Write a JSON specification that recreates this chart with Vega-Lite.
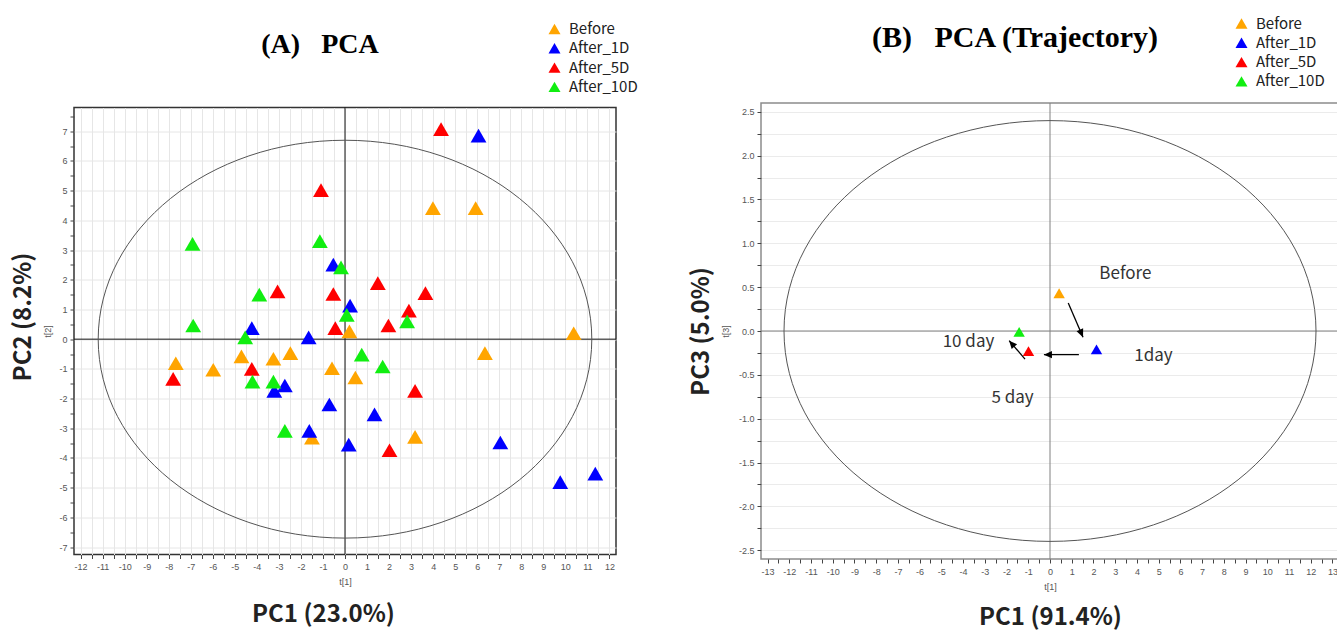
{
  "$schema": "https://vega.github.io/schema/vega-lite/v6.json",
  "background": "white",
  "padding": {"left": 10, "top": 15, "right": 0, "bottom": 0},
  "bounds": "flush",
  "center": true,
  "spacing": 145,
  "datasets": {
    "pca": [
      {"pc1": -7.68, "pc2": -0.81, "group": "Before"},
      {"pc1": -5.98, "pc2": -1.03, "group": "Before"},
      {"pc1": -4.7, "pc2": -0.58, "group": "Before"},
      {"pc1": -3.25, "pc2": -0.66, "group": "Before"},
      {"pc1": -2.48, "pc2": -0.47, "group": "Before"},
      {"pc1": -0.59, "pc2": -0.98, "group": "Before"},
      {"pc1": 0.47, "pc2": -1.29, "group": "Before"},
      {"pc1": -1.5, "pc2": -3.32, "group": "Before"},
      {"pc1": 0.2, "pc2": 0.26, "group": "Before"},
      {"pc1": 3.99, "pc2": 4.41, "group": "Before"},
      {"pc1": 5.93, "pc2": 4.41, "group": "Before"},
      {"pc1": 10.38, "pc2": 0.2, "group": "Before"},
      {"pc1": 6.35, "pc2": -0.47, "group": "Before"},
      {"pc1": 3.18, "pc2": -3.29, "group": "Before"},
      {"pc1": 6.06, "pc2": 6.85, "group": "After_1D"},
      {"pc1": -0.53, "pc2": 2.51, "group": "After_1D"},
      {"pc1": 0.23, "pc2": 1.13, "group": "After_1D"},
      {"pc1": -4.23, "pc2": 0.37, "group": "After_1D"},
      {"pc1": -1.65, "pc2": 0.06, "group": "After_1D"},
      {"pc1": -3.21, "pc2": -1.74, "group": "After_1D"},
      {"pc1": -2.73, "pc2": -1.56, "group": "After_1D"},
      {"pc1": -0.71, "pc2": -2.2, "group": "After_1D"},
      {"pc1": -1.62, "pc2": -3.09, "group": "After_1D"},
      {"pc1": 0.17, "pc2": -3.55, "group": "After_1D"},
      {"pc1": 1.34, "pc2": -2.53, "group": "After_1D"},
      {"pc1": 7.05, "pc2": -3.48, "group": "After_1D"},
      {"pc1": 9.77, "pc2": -4.81, "group": "After_1D"},
      {"pc1": 11.36, "pc2": -4.53, "group": "After_1D"},
      {"pc1": 4.36, "pc2": 7.07, "group": "After_5D"},
      {"pc1": -1.09, "pc2": 5.02, "group": "After_5D"},
      {"pc1": -3.06, "pc2": 1.61, "group": "After_5D"},
      {"pc1": -0.53, "pc2": 1.52, "group": "After_5D"},
      {"pc1": -0.44, "pc2": 0.37, "group": "After_5D"},
      {"pc1": -7.8, "pc2": -1.34, "group": "After_5D"},
      {"pc1": -4.23, "pc2": -1.0, "group": "After_5D"},
      {"pc1": 1.49, "pc2": 1.89, "group": "After_5D"},
      {"pc1": 3.65, "pc2": 1.55, "group": "After_5D"},
      {"pc1": 2.9, "pc2": 0.96, "group": "After_5D"},
      {"pc1": 1.97, "pc2": 0.46, "group": "After_5D"},
      {"pc1": 3.18, "pc2": -1.74, "group": "After_5D"},
      {"pc1": 2.02, "pc2": -3.74, "group": "After_5D"},
      {"pc1": -6.92, "pc2": 3.21, "group": "After_10D"},
      {"pc1": -6.89, "pc2": 0.46, "group": "After_10D"},
      {"pc1": -1.14, "pc2": 3.3, "group": "After_10D"},
      {"pc1": -0.18, "pc2": 2.42, "group": "After_10D"},
      {"pc1": -3.89, "pc2": 1.5, "group": "After_10D"},
      {"pc1": 0.08, "pc2": 0.82, "group": "After_10D"},
      {"pc1": -4.53, "pc2": 0.06, "group": "After_10D"},
      {"pc1": -4.2, "pc2": -1.43, "group": "After_10D"},
      {"pc1": -3.25, "pc2": -1.43, "group": "After_10D"},
      {"pc1": 0.76, "pc2": -0.52, "group": "After_10D"},
      {"pc1": 1.71, "pc2": -0.92, "group": "After_10D"},
      {"pc1": -2.73, "pc2": -3.09, "group": "After_10D"},
      {"pc1": 2.82, "pc2": 0.6, "group": "After_10D"}
    ],
    "traj": [
      {"pc1": 0.42, "pc3": 0.43, "group": "Before"},
      {"pc1": 2.14, "pc3": -0.21, "group": "After_1D"},
      {"pc1": -0.99, "pc3": -0.23, "group": "After_5D"},
      {"pc1": -1.42, "pc3": -0.01, "group": "After_10D"}
    ],
    "arrows": [
      {"id": 1, "pc1": 0.84, "pc3": 0.32, "pc1_end": 1.52, "pc3_end": -0.07},
      {"id": 2, "pc1": 1.33, "pc3": -0.27, "pc1_end": -0.28, "pc3_end": -0.27},
      {"id": 3, "pc1": -1.15, "pc3": -0.32, "pc1_end": -1.88, "pc3_end": -0.11}
    ],
    "notes": [
      {"pc1": 3.47, "pc3": 0.65, "label": "Before"},
      {"pc1": 4.76, "pc3": -0.29, "label": "1day"},
      {"pc1": -3.75, "pc3": -0.13, "label": "10 day"},
      {"pc1": -1.72, "pc3": -0.76, "label": "5 day"}
    ],
    "one": [{}]
  },
  "resolve": {"scale": {"color": "independent"}},
  "hconcat": [
    {
      "width": 542,
      "height": 447,
      "title": {"text": "(A)\u00a0\u00a0\u00a0PCA", "font": "Liberation Serif", "fontSize": 28, "fontWeight": "bold", "color": "#000000", "anchor": "middle", "dx": -25, "offset": -37},
      "view": {"stroke": "#333333", "strokeWidth": 1.5},
      "resolve": {"axis": {"x": "independent", "y": "independent"}},
      "layer": [
        {
          "data": {"name": "one"},
          "mark": {"type": "rule", "color": "#111111", "strokeWidth": 1},
          "encoding": {"x": {"datum": 0, "type": "quantitative", "scale": {"domain": [-12.3, 12.3], "nice": false, "zero": false}, "axis": null}}
        },
        {
          "data": {"name": "one"},
          "mark": {"type": "rule", "color": "#111111", "strokeWidth": 1},
          "encoding": {"y": {"datum": 0, "type": "quantitative", "scale": {"domain": [-7.25, 7.8], "nice": false, "zero": false}, "axis": null}}
        },
        {
          "data": {"name": "one"},
          "mark": {"type": "point", "shape": "M-1,0 C-1,-0.4452 -0.5523,-0.806 0,-0.806 C0.5523,-0.806 1,-0.4452 1,0 C1,0.4452 0.5523,0.806 0,0.806 C-0.5523,0.806 -1,0.4452 -1,0 Z", "size": 243641, "filled": false, "stroke": "#555555", "strokeWidth": 1, "opacity": 1},
          "encoding": {
            "x": {"datum": 0, "type": "quantitative", "scale": {"domain": [-12.3, 12.3], "nice": false, "zero": false},
              "axis": {"orient": "bottom", "title": "PC1 (23.0%)", "labels": false, "ticks": false, "domain": false, "grid": false, "titleFont": "Noto Sans CJK KR", "titleFontSize": 24, "titleFontWeight": "bold", "titleColor": "#222222", "titlePadding": 48, "titleX": 249}},
            "y": {"datum": 0, "type": "quantitative", "scale": {"domain": [-7.25, 7.8], "nice": false, "zero": false},
              "axis": {"orient": "left", "title": "PC2 (8.2%)", "labels": false, "ticks": false, "domain": false, "grid": false, "titleFont": "Noto Sans CJK KR", "titleFontSize": 24, "titleFontWeight": "bold", "titleColor": "#222222", "titlePadding": 39, "titleY": 209}}
          }
        },
        {
          "data": {"name": "pca"},
          "mark": {"type": "point", "shape": "triangle-up", "filled": true, "size": 250, "opacity": 1},
          "encoding": {
            "x": {"field": "pc1", "type": "quantitative", "scale": {"domain": [-12.3, 12.3], "nice": false, "zero": false},
              "axis": {"orient": "bottom", "title": "t[1]", "values": [-12, -11.5, -11, -10.5, -10, -9.5, -9, -8.5, -8, -7.5, -7, -6.5, -6, -5.5, -5, -4.5, -4, -3.5, -3, -2.5, -2, -1.5, -1, -0.5, 0, 0.5, 1, 1.5, 2, 2.5, 3, 3.5, 4, 4.5, 5, 5.5, 6, 6.5, 7, 7.5, 8, 8.5, 9, 9.5, 10, 10.5, 11, 11.5, 12],
                "labelExpr": "datum.value % 1 == 0 ? '' + datum.value : ''", "grid": true, "gridColor": "#e6e6e6", "domain": false, "tickSize": 4, "labelPadding": 4, "titlePadding": 6}},
            "y": {"field": "pc2", "type": "quantitative", "scale": {"domain": [-7.25, 7.8], "nice": false, "zero": false},
              "axis": {"orient": "left", "title": "t[2]", "values": [-7, -6.5, -6, -5.5, -5, -4.5, -4, -3.5, -3, -2.5, -2, -1.5, -1, -0.5, 0, 0.5, 1, 1.5, 2, 2.5, 3, 3.5, 4, 4.5, 5, 5.5, 6, 6.5, 7, 7.5],
                "labelExpr": "datum.value % 1 == 0 ? '' + datum.value : ''", "grid": true, "gridColor": "#e6e6e6",
                "gridOpacity": {"condition": {"test": "datum.value % 1 != 0", "value": 0}, "value": 1},
                "domain": false, "tickSize": 4, "labelPadding": 3, "titlePadding": 6}},
            "color": {"field": "group", "type": "nominal",
              "scale": {"domain": ["Before", "After_1D", "After_5D", "After_10D"], "range": ["#ffa500", "#0000ff", "#ff0000", "#11ee11"]},
              "legend": {"orient": "none", "legendX": 473, "legendY": -86, "title": null, "symbolType": "triangle-up", "symbolSize": 144, "symbolStrokeWidth": 0, "labelFont": "Noto Sans CJK KR", "labelFontSize": 15, "labelColor": "#222222", "labelOffset": 7, "rowPadding": 3.3, "padding": 0}}
          }
        }
      ]
    },
    {
      "width": 578,
      "height": 456,
      "title": {"text": "(B)\u00a0\u00a0\u00a0PCA (Trajectory)", "font": "Liberation Serif", "fontSize": 30, "fontWeight": "bold", "color": "#000000", "anchor": "middle", "dx": -35, "offset": -37},
      "view": {"stroke": "#8c8c8c", "strokeWidth": 1.5},
      "resolve": {"axis": {"x": "independent", "y": "independent"}},
      "layer": [
        {
          "data": {"name": "one"},
          "mark": {"type": "rule", "color": "#808080", "strokeWidth": 1},
          "encoding": {"x": {"datum": 0, "type": "quantitative", "scale": {"domain": [-13.3, 13.3], "nice": false, "zero": false}, "axis": null}}
        },
        {
          "data": {"name": "one"},
          "mark": {"type": "rule", "color": "#808080", "strokeWidth": 1},
          "encoding": {"y": {"datum": 0, "type": "quantitative", "scale": {"domain": [-2.6, 2.6], "nice": false, "zero": false}, "axis": null}}
        },
        {
          "data": {"name": "one"},
          "mark": {"type": "point", "shape": "M-1,0 C-1,-0.4369 -0.5523,-0.791 0,-0.791 C0.5523,-0.791 1,-0.4369 1,0 C1,0.4369 0.5523,0.791 0,0.791 C-0.5523,0.791 -1,0.4369 -1,0 Z", "size": 283024, "filled": false, "stroke": "#555555", "strokeWidth": 1, "opacity": 1},
          "encoding": {
            "x": {"datum": 0, "type": "quantitative", "scale": {"domain": [-13.3, 13.3], "nice": false, "zero": false},
              "axis": {"orient": "bottom", "title": "PC1 (91.4%)", "labels": false, "ticks": false, "domain": false, "grid": false, "titleFont": "Noto Sans CJK KR", "titleFontSize": 24, "titleFontWeight": "bold", "titleColor": "#222222", "titlePadding": 46}},
            "y": {"datum": 0, "type": "quantitative", "scale": {"domain": [-2.6, 2.6], "nice": false, "zero": false},
              "axis": {"orient": "left", "title": "PC3 (5.0%)", "labels": false, "ticks": false, "domain": false, "grid": false, "titleFont": "Noto Sans CJK KR", "titleFontSize": 24, "titleFontWeight": "bold", "titleColor": "#222222", "titlePadding": 48}}
          }
        },
        {
          "data": {"name": "arrows"},
          "mark": {"type": "rule", "color": "#000000", "strokeWidth": 1.3},
          "encoding": {
            "x": {"field": "pc1", "type": "quantitative", "scale": {"domain": [-13.3, 13.3], "nice": false, "zero": false}, "axis": null},
            "y": {"field": "pc3", "type": "quantitative", "scale": {"domain": [-2.6, 2.6], "nice": false, "zero": false}, "axis": null},
            "x2": {"field": "pc1_end"},
            "y2": {"field": "pc3_end"}
          }
        },
        {
          "data": {"name": "arrows"},
          "transform": [{"filter": "datum.id == 1"}],
          "mark": {"type": "point", "shape": "M0,0 L0.45,1 L-0.45,1 Z", "size": 256, "filled": true, "color": "#000000", "opacity": 1, "angle": 156.6},
          "encoding": {
            "x": {"field": "pc1_end", "type": "quantitative", "axis": null},
            "y": {"field": "pc3_end", "type": "quantitative", "axis": null}
          }
        },
        {
          "data": {"name": "arrows"},
          "transform": [{"filter": "datum.id == 2"}],
          "mark": {"type": "point", "shape": "M0,0 L0.45,1 L-0.45,1 Z", "size": 256, "filled": true, "color": "#000000", "opacity": 1, "angle": 270},
          "encoding": {
            "x": {"field": "pc1_end", "type": "quantitative", "axis": null},
            "y": {"field": "pc3_end", "type": "quantitative", "axis": null}
          }
        },
        {
          "data": {"name": "arrows"},
          "transform": [{"filter": "datum.id == 3"}],
          "mark": {"type": "point", "shape": "M0,0 L0.45,1 L-0.45,1 Z", "size": 256, "filled": true, "color": "#000000", "opacity": 1, "angle": 319.2},
          "encoding": {
            "x": {"field": "pc1_end", "type": "quantitative", "axis": null},
            "y": {"field": "pc3_end", "type": "quantitative", "axis": null}
          }
        },
        {
          "data": {"name": "notes"},
          "mark": {"type": "text", "font": "Noto Sans CJK KR", "fontSize": 17, "color": "#333333", "align": "center", "baseline": "middle"},
          "encoding": {
            "x": {"field": "pc1", "type": "quantitative", "axis": null},
            "y": {"field": "pc3", "type": "quantitative", "axis": null},
            "text": {"field": "label"}
          }
        },
        {
          "data": {"name": "traj"},
          "mark": {"type": "point", "shape": "triangle-up", "filled": true, "size": 130, "opacity": 1},
          "encoding": {
            "x": {"field": "pc1", "type": "quantitative", "scale": {"domain": [-13.3, 13.3], "nice": false, "zero": false},
              "axis": {"orient": "bottom", "title": "t[1]", "values": [-13, -12.5, -12, -11.5, -11, -10.5, -10, -9.5, -9, -8.5, -8, -7.5, -7, -6.5, -6, -5.5, -5, -4.5, -4, -3.5, -3, -2.5, -2, -1.5, -1, -0.5, 0, 0.5, 1, 1.5, 2, 2.5, 3, 3.5, 4, 4.5, 5, 5.5, 6, 6.5, 7, 7.5, 8, 8.5, 9, 9.5, 10, 10.5, 11, 11.5, 12, 12.5, 13],
                "labelExpr": "datum.value % 1 == 0 ? '' + datum.value : ''", "grid": false, "domain": false, "tickSize": 4, "labelPadding": 4, "titlePadding": 6}},
            "y": {"field": "pc3", "type": "quantitative", "scale": {"domain": [-2.6, 2.6], "nice": false, "zero": false},
              "axis": {"orient": "left", "title": "t[3]", "values": [-2.5, -2.25, -2, -1.75, -1.5, -1.25, -1, -0.75, -0.5, -0.25, 0, 0.25, 0.5, 0.75, 1, 1.25, 1.5, 1.75, 2, 2.25, 2.5],
                "labelExpr": "(datum.value * 2) % 1 == 0 ? (datum.value % 1 == 0 ? datum.value + '.0' : '' + datum.value) : ''", "grid": true, "gridColor": "#ebebeb", "domain": false, "tickSize": 4, "labelPadding": 3, "titlePadding": 8}},
            "color": {"field": "group", "type": "nominal",
              "scale": {"domain": ["Before", "After_1D", "After_5D", "After_10D"], "range": ["#ffa500", "#0000ff", "#ff0000", "#11ee11"]},
              "legend": {"orient": "none", "legendX": 473, "legendY": -87, "title": null, "symbolType": "triangle-up", "symbolSize": 144, "symbolStrokeWidth": 0, "labelFont": "Noto Sans CJK KR", "labelFontSize": 15, "labelColor": "#222222", "labelOffset": 7, "rowPadding": 3.3, "padding": 0}}
          }
        }
      ]
    }
  ],
  "config": {
    "axis": {"labelFont": "Liberation Sans", "labelFontSize": 9, "labelColor": "#555555", "titleFont": "Liberation Sans", "titleFontSize": 9, "titleFontWeight": "normal", "titleColor": "#555555", "tickColor": "#444444"},
    "legend": {"symbolStrokeWidth": 0}
  }
}
